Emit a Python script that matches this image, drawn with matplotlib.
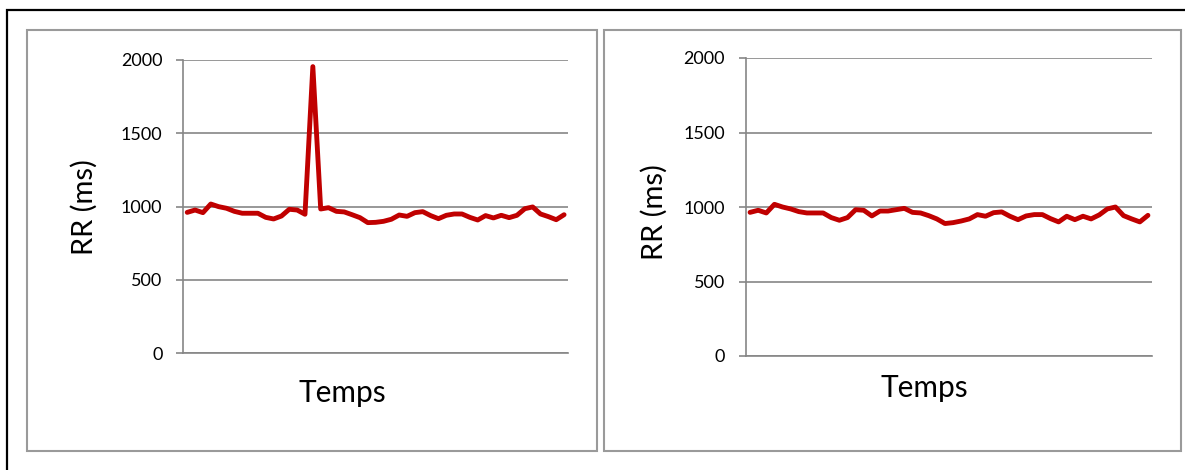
import matplotlib
matplotlib.use("Agg")
import matplotlib.pyplot as plt
from matplotlib.patches import Rectangle

# RR intervals (ms) – raw series with artefact (left) and corrected series (right)
rr_raw = [961, 977, 959, 1018, 1000, 989, 968, 955, 955, 955, 927, 916, 936, 982,
          977, 948, 1955, 984, 993, 968, 964, 945, 925, 891, 893, 900, 914, 943,
          934, 959, 966, 939, 918, 941, 950, 950, 927, 909, 939, 923, 941, 925,
          941, 986, 998, 950, 932, 911, 945]
rr_corrected = [964, 978, 960, 1018, 1000, 987, 969, 960, 960, 960, 929, 911, 929,
                982, 978, 940, 973, 973, 982, 991, 964, 960, 942, 920, 889, 895,
                906, 920, 949, 938, 962, 967, 938, 915, 940, 949, 949, 922, 900,
                938, 915, 938, 920, 947, 987, 1000, 942, 920, 900, 944]
y_ticks = [0, 500, 1000, 1500, 2000]
x_label = "Temps"
y_label = "RR (ms)"

W, H = 1185, 470
fig = plt.figure(figsize=(W / 100, H / 100), dpi=100)
plt.rcParams['font.family'] = ['Lato', 'DejaVu Sans']

GRID = '#868686'
LINE = '#C00000'


def px(x0, y0, x1, y1):
    """convert pixel box (top-left origin) to figure fraction rect"""
    return [x0 / W, (H - y1) / H, (x1 - x0) / W, (y1 - y0) / H]


# outer black frame
fig.patches.append(Rectangle((7 / W, -0.05), 1.2, (H - 10) / H + 0.05,
                             transform=fig.transFigure, fill=False,
                             edgecolor='black', linewidth=1.6))
# chart frames
for (x0, y0, x1, y1) in [(27, 30, 597, 451), (604, 30, 1181, 451)]:
    fig.patches.append(Rectangle((x0 / W, (H - y1) / H), (x1 - x0) / W, (y1 - y0) / H,
                                 transform=fig.transFigure, fill=False,
                                 edgecolor='#9a9a9a', linewidth=1.5))


def draw(rect, data, ylab_x, ylab_y, xlab_x, xlab_y):
    ax = fig.add_axes(px(*rect))
    n = len(data)
    ax.plot(range(n), data, color=LINE, linewidth=3.5, solid_joinstyle='round',
            solid_capstyle='round', zorder=3)
    ax.set_xlim(-0.5, n - 0.5)
    ax.set_ylim(0, 2000)
    ax.set_yticks(y_ticks)
    ax.set_yticklabels([str(v) for v in y_ticks], fontsize=13)
    ax.set_xticks([])
    ax.grid(axis='y', color=GRID, linewidth=1.2)
    ax.set_axisbelow(True)
    for s in ['top', 'right']:
        ax.spines[s].set_visible(False)
    for s in ['left', 'bottom']:
        ax.spines[s].set_color(GRID)
        ax.spines[s].set_linewidth(1.2)
    ax.tick_params(axis='y', length=5, width=1.2, color=GRID, pad=10)
    fig.text(ylab_x / W, 1 - ylab_y / H, y_label, rotation=90, fontsize=21,
             ha='center', va='center')
    fig.text(xlab_x / W, 1 - xlab_y / H, x_label, fontsize=21.5,
             ha='center', va='center')
    return ax


draw((183.3, 60, 568, 353.3), rr_raw, 84, 207, 342, 393)
draw((746, 58, 1152, 356), rr_corrected, 654, 212, 924, 388)

fig.savefig('out.png', dpi=100)
